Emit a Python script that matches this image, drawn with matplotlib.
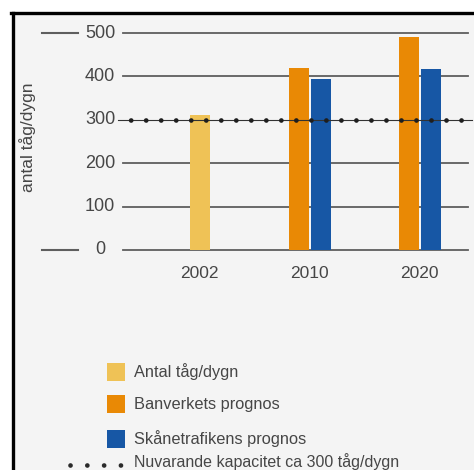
import matplotlib
matplotlib.use("Agg")
import matplotlib.pyplot as plt
from matplotlib.patches import Rectangle
from matplotlib.lines import Line2D
import matplotlib.transforms as mtransforms
import numpy as np

# --- data ---
years = ["2002", "2010", "2020"]
antal = [310, None, None]            # Antal tåg/dygn
banverket = [None, 420, 490]         # Banverkets prognos
skanetrafiken = [None, 395, 418]     # Skånetrafikens prognos
capacity = 300
yticks = [0, 100, 200, 300, 400, 500]
series_labels = ["Antal tåg/dygn", "Banverkets prognos", "Skånetrafikens prognos"]
capacity_label = "Nuvarande kapacitet ca 300 tåg/dygn"
ylabel = "antal tåg/dygn"

c_antal = "#EFC256"
c_ban = "#E98905"
c_ska = "#1757A5"
grid_c = "#5e5e5e"
text_c = "#464646"
bg = "#F4F4F4"

plt.rcParams["font.family"] = ["Liberation Sans", "DejaVu Sans"]

W, H = 474, 470
fig = plt.figure(figsize=(W / 100, H / 100), dpi=100)
fig.patch.set_facecolor("white")

def fx(px):
    return px / W

def fy(py):
    return (H - py) / H

# panel background and frame
fig.add_artist(Rectangle((fx(12), 0), 1 - fx(12), fy(13), transform=fig.transFigure,
                         facecolor=bg, edgecolor="none", zorder=-5))
fig.add_artist(Line2D([fx(12.5), fx(12.5)], [0, fy(13)], color="black", lw=2.4,
                      transform=fig.transFigure, zorder=5))
fig.add_artist(Line2D([fx(11.3), 1], [fy(13), fy(13)], color="black", lw=2.4,
                      transform=fig.transFigure, zorder=5))

# axes: y=0 at pixel 250, y=500 at pixel 33; x categories centred every 110 px
left_px, right_px = 123, 468
ax = fig.add_axes([fx(left_px), fy(250), fx(right_px) - fx(left_px), fy(33) - fy(250)])
ax.set_zorder(1)
ax.set_facecolor("none")
x0_px, step_px = 199.5, 110.0
ax.set_xlim((left_px - x0_px) / step_px, (right_px - x0_px) / step_px)
ax.set_ylim(0, 500)
for s in ax.spines.values():
    s.set_visible(False)
ax.set_xticks([])
ax.set_yticks([])

x = np.arange(len(years))
bw = 20 / step_px
off = 11 / step_px

# horizontal rules
for v in yticks:
    if v == capacity:
        continue
    ax.axhline(v, color=grid_c, lw=1.3, zorder=1, clip_on=False)

fig_y = mtransforms.blended_transform_factory(fig.transFigure, ax.transData)
x_fig = mtransforms.blended_transform_factory(ax.transData, fig.transFigure)

# short lead-in rules next to 0 and 500
for v in (0, 500):
    ax.plot([fx(42), fx(78)], [v, v], color=grid_c, lw=1.5, transform=fig_y, clip_on=False)

# bars
def vals(seq):
    return [np.nan if v is None else v for v in seq]

ax.bar(x, vals(antal), width=bw, color=c_antal, zorder=2)
ax.bar(x - off, vals(banverket), width=bw, color=c_ban, zorder=2)
ax.bar(x + off, vals(skanetrafiken), width=bw, color=c_ska, zorder=2)

# capacity line: thin line with round dots every ~15 px
xs_min = (118 - left_px) / (right_px - left_px)
xs_max = (472 - left_px) / (right_px - left_px)
ax.axhline(capacity, xmin=xs_min, xmax=xs_max, color="#333333", lw=0.8, zorder=3, clip_on=False)
ax.axhline(capacity, xmin=xs_min, xmax=xs_max, color="#1e1e1e", lw=3.4,
           linestyle=(0.5, (0.01, 3.17)), dash_capstyle="round", zorder=3, clip_on=False)

# tick labels (centred at x≈100 px)
for v in yticks:
    ax.text(fx(100), v, str(v), transform=fig_y, ha="center", va="center",
            fontsize=13, color=text_c, clip_on=False)

# year labels
for xi, yr in zip(x, years):
    ax.text(xi, fy(274), yr, transform=x_fig, ha="center", va="center",
            fontsize=12.5, color=text_c)

# y-axis title
fig.text(fx(28), fy(137), ylabel, rotation=90, ha="center", va="center",
         fontsize=12.5, color=text_c)

# legend
sq = 18
rows = [(372, c_antal), (404, c_ban), (439, c_ska)]
for (yc, col), lab in zip(rows, series_labels):
    fig.add_artist(Rectangle((fx(107), fy(yc + sq / 2)), fx(sq), sq / H,
                             transform=fig.transFigure, facecolor=col, edgecolor="none"))
    fig.text(fx(134), fy(yc), lab, ha="left", va="center", fontsize=11.8, color=text_c)

fig.add_artist(Line2D([fx(70), fx(122)], [fy(465), fy(465)], color="#2a2a2a", lw=3.4,
                      linestyle=(0, (0.01, 3.55)), dash_capstyle="round",
                      transform=fig.transFigure))
fig.text(fx(134), fy(462), capacity_label, ha="left", va="center", fontsize=11.5, color=text_c)

fig.savefig("out.png", dpi=100, facecolor=fig.get_facecolor())
